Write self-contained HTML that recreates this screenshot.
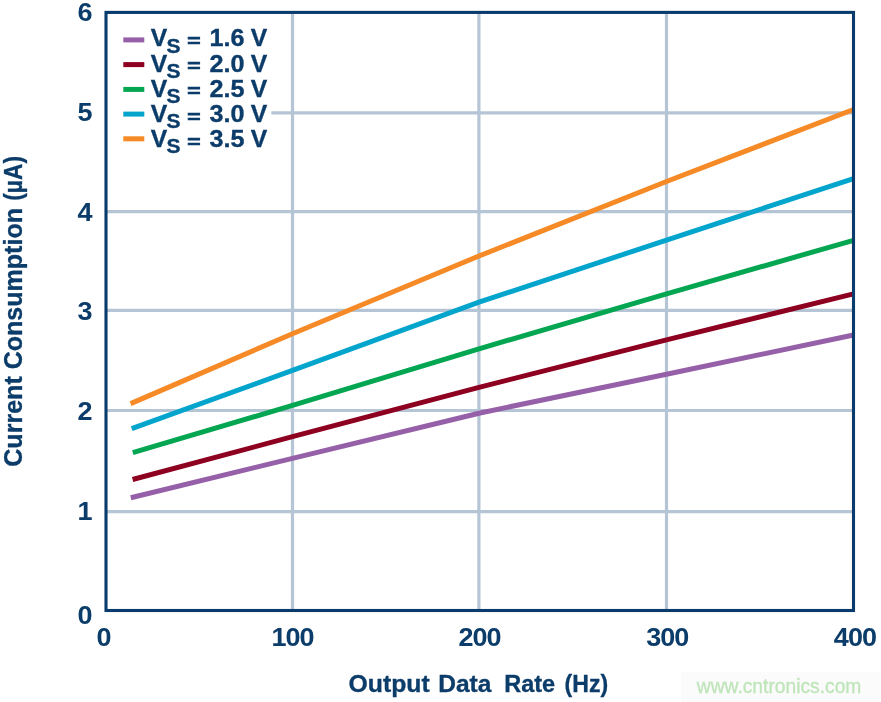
<!DOCTYPE html>
<html>
<head>
<meta charset="utf-8">
<title>Current Consumption vs Output Data Rate</title>
<style>
html,body{margin:0;padding:0;background:#fff;}
body{width:881px;height:702px;overflow:hidden;}
svg{display:block;}
text{font-family:"Liberation Sans",sans-serif;font-weight:bold;fill:#0c3c69;}
.wm{font-weight:normal;fill:#bfe5ba;stroke:#bfe5ba;stroke-width:0.35;}
</style>
</head>
<body>
<svg width="881" height="702" viewBox="0 0 881 702">
<rect width="881" height="702" fill="#ffffff"/>
<g stroke="#b5c5d5" stroke-width="3.2" fill="none">
<line x1="292.5" y1="12.4" x2="292.5" y2="610.5"/>
<line x1="478.9" y1="12.4" x2="478.9" y2="610.5"/>
<line x1="666.5" y1="12.4" x2="666.5" y2="610.5"/>
<line x1="106" y1="112.8" x2="853.5" y2="112.8"/>
<line x1="106" y1="211.7" x2="853.5" y2="211.7"/>
<line x1="106" y1="310.4" x2="853.5" y2="310.4"/>
<line x1="106" y1="410.5" x2="853.5" y2="410.5"/>
<line x1="106" y1="511.7" x2="853.5" y2="511.7"/>
</g>
<rect x="107" y="14" width="164.4" height="142" fill="#ffffff"/>
<g fill="none" stroke-width="5" stroke-linejoin="round">
<polyline stroke="#9660a8" points="130.8,497.7 292.5,458.4 479,413.2 666.5,374.2 853.5,335"/>
<polyline stroke="#8e0020" points="132.6,479.5 292.5,436.7 479,387.4 666.5,339.8 853.5,293.9"/>
<polyline stroke="#04a651" points="132.8,452.6 292.5,405.4 479,348.8 666.5,293.9 853.5,240.3"/>
<polyline stroke="#04a5cd" points="131.7,428.6 292.5,370.4 479,302.2 666.5,240.1 853.5,178.7"/>
<polyline stroke="#f58a26" points="130.6,403.6 292.5,333.7 479,256 666.5,181.5 853.5,109.5"/>
</g>
<rect x="106" y="12.4" width="747.5" height="598.1" fill="none" stroke="#093b6c" stroke-width="3.1"/>
<g stroke-width="5" fill="none">
<line x1="123.3" y1="39.9" x2="144.3" y2="39.9" stroke="#9660a8"/>
<line x1="123.3" y1="64.6" x2="144.3" y2="64.6" stroke="#8e0020"/>
<line x1="123.3" y1="89.4" x2="144.3" y2="89.4" stroke="#04a651"/>
<line x1="123.3" y1="114.1" x2="144.3" y2="114.1" stroke="#04a5cd"/>
<line x1="123.3" y1="138.8" x2="144.3" y2="138.8" stroke="#f58a26"/>
</g>
<text transform="translate(150.7,46.4) scale(1.03,1)" font-size="24" stroke="#0c3c69" stroke-width="0.35">V</text>
<text transform="translate(166.5,52.6) scale(1.05,1)" font-size="20" stroke="#0c3c69" stroke-width="0.35">S</text>
<text transform="translate(187.2,47.3) scale(0.95,0.73)" font-size="24" stroke="#0c3c69" stroke-width="1.0">=</text>
<text transform="translate(209.6,46.4) scale(1.05,1)" font-size="24" stroke="#0c3c69" stroke-width="0.35">1.6</text>
<text transform="translate(250.7,46.4) scale(1.03,1)" font-size="24" stroke="#0c3c69" stroke-width="0.35">V</text>
<text transform="translate(150.7,71.5) scale(1.03,1)" font-size="24" stroke="#0c3c69" stroke-width="0.35">V</text>
<text transform="translate(166.5,77.7) scale(1.05,1)" font-size="20" stroke="#0c3c69" stroke-width="0.35">S</text>
<text transform="translate(187.2,72.4) scale(0.95,0.73)" font-size="24" stroke="#0c3c69" stroke-width="1.0">=</text>
<text transform="translate(209.6,71.5) scale(1.05,1)" font-size="24" stroke="#0c3c69" stroke-width="0.35">2.0</text>
<text transform="translate(250.7,71.5) scale(1.03,1)" font-size="24" stroke="#0c3c69" stroke-width="0.35">V</text>
<text transform="translate(150.7,96.55) scale(1.03,1)" font-size="24" stroke="#0c3c69" stroke-width="0.35">V</text>
<text transform="translate(166.5,102.75) scale(1.05,1)" font-size="20" stroke="#0c3c69" stroke-width="0.35">S</text>
<text transform="translate(187.2,97.45) scale(0.95,0.73)" font-size="24" stroke="#0c3c69" stroke-width="1.0">=</text>
<text transform="translate(209.6,96.55) scale(1.05,1)" font-size="24" stroke="#0c3c69" stroke-width="0.35">2.5</text>
<text transform="translate(250.7,96.55) scale(1.03,1)" font-size="24" stroke="#0c3c69" stroke-width="0.35">V</text>
<text transform="translate(150.7,121.6) scale(1.03,1)" font-size="24" stroke="#0c3c69" stroke-width="0.35">V</text>
<text transform="translate(166.5,127.8) scale(1.05,1)" font-size="20" stroke="#0c3c69" stroke-width="0.35">S</text>
<text transform="translate(187.2,122.5) scale(0.95,0.73)" font-size="24" stroke="#0c3c69" stroke-width="1.0">=</text>
<text transform="translate(209.6,121.6) scale(1.05,1)" font-size="24" stroke="#0c3c69" stroke-width="0.35">3.0</text>
<text transform="translate(250.7,121.6) scale(1.03,1)" font-size="24" stroke="#0c3c69" stroke-width="0.35">V</text>
<text transform="translate(150.7,146.7) scale(1.03,1)" font-size="24" stroke="#0c3c69" stroke-width="0.35">V</text>
<text transform="translate(166.5,152.89999999999998) scale(1.05,1)" font-size="20" stroke="#0c3c69" stroke-width="0.35">S</text>
<text transform="translate(187.2,147.6) scale(0.95,0.73)" font-size="24" stroke="#0c3c69" stroke-width="1.0">=</text>
<text transform="translate(209.6,146.7) scale(1.05,1)" font-size="24" stroke="#0c3c69" stroke-width="0.35">3.5</text>
<text transform="translate(250.7,146.7) scale(1.03,1)" font-size="24" stroke="#0c3c69" stroke-width="0.35">V</text>
<text transform="translate(92.4,20.8) scale(1.08,1)" font-size="25" text-anchor="end">6</text>
<text transform="translate(92.4,120.7) scale(1.08,1)" font-size="25" text-anchor="end">5</text>
<text transform="translate(92.4,221) scale(1.08,1)" font-size="25" text-anchor="end">4</text>
<text transform="translate(92.4,319.7) scale(1.08,1)" font-size="25" text-anchor="end">3</text>
<text transform="translate(92.4,420.2) scale(1.08,1)" font-size="25" text-anchor="end">2</text>
<text transform="translate(92.4,519.9) scale(1.08,1)" font-size="25" text-anchor="end">1</text>
<text transform="translate(92.4,624) scale(1.08,1)" font-size="25" text-anchor="end">0</text>
<text transform="translate(103.5,645.8) scale(1.08,1)" font-size="25" text-anchor="middle" letter-spacing="-0.9">0</text>
<text transform="translate(292.5,645.8) scale(1.08,1)" font-size="25" text-anchor="middle" letter-spacing="-0.9">100</text>
<text transform="translate(479.5,645.8) scale(1.08,1)" font-size="25" text-anchor="middle" letter-spacing="-0.9">200</text>
<text transform="translate(667.3,645.8) scale(1.08,1)" font-size="25" text-anchor="middle" letter-spacing="-0.9">300</text>
<text transform="translate(854.9,645.8) scale(1.08,1)" font-size="25" text-anchor="middle" letter-spacing="-0.9">400</text>
<text y="692.3" font-size="23" stroke="#0c3c69" stroke-width="0.3"><tspan x="348.5" textLength="81.2" lengthAdjust="spacingAndGlyphs">Output</tspan> <tspan x="438.2" textLength="53.2" lengthAdjust="spacingAndGlyphs">Data</tspan> <tspan x="504.2" textLength="51.0" lengthAdjust="spacingAndGlyphs">Rate</tspan> <tspan x="564.6" textLength="43.6" lengthAdjust="spacingAndGlyphs">(Hz)</tspan></text>
<text transform="translate(21.9,466.8) rotate(-90)" font-size="25" stroke="#0c3c69" stroke-width="0.3"><tspan x="0" textLength="90.6" lengthAdjust="spacingAndGlyphs">Current</tspan> <tspan x="97.5" textLength="161.3" lengthAdjust="spacingAndGlyphs">Consumption</tspan> <tspan x="266.1" textLength="44.7" lengthAdjust="spacingAndGlyphs">(µA)</tspan></text>
<rect x="681" y="672" width="200" height="30" fill="#fbfbfb"/>
<text class="wm" x="696.8" y="692.8" font-size="20.5" textLength="164.6" lengthAdjust="spacingAndGlyphs">www.cntronics.com</text>
</svg>
</body>
</html>
